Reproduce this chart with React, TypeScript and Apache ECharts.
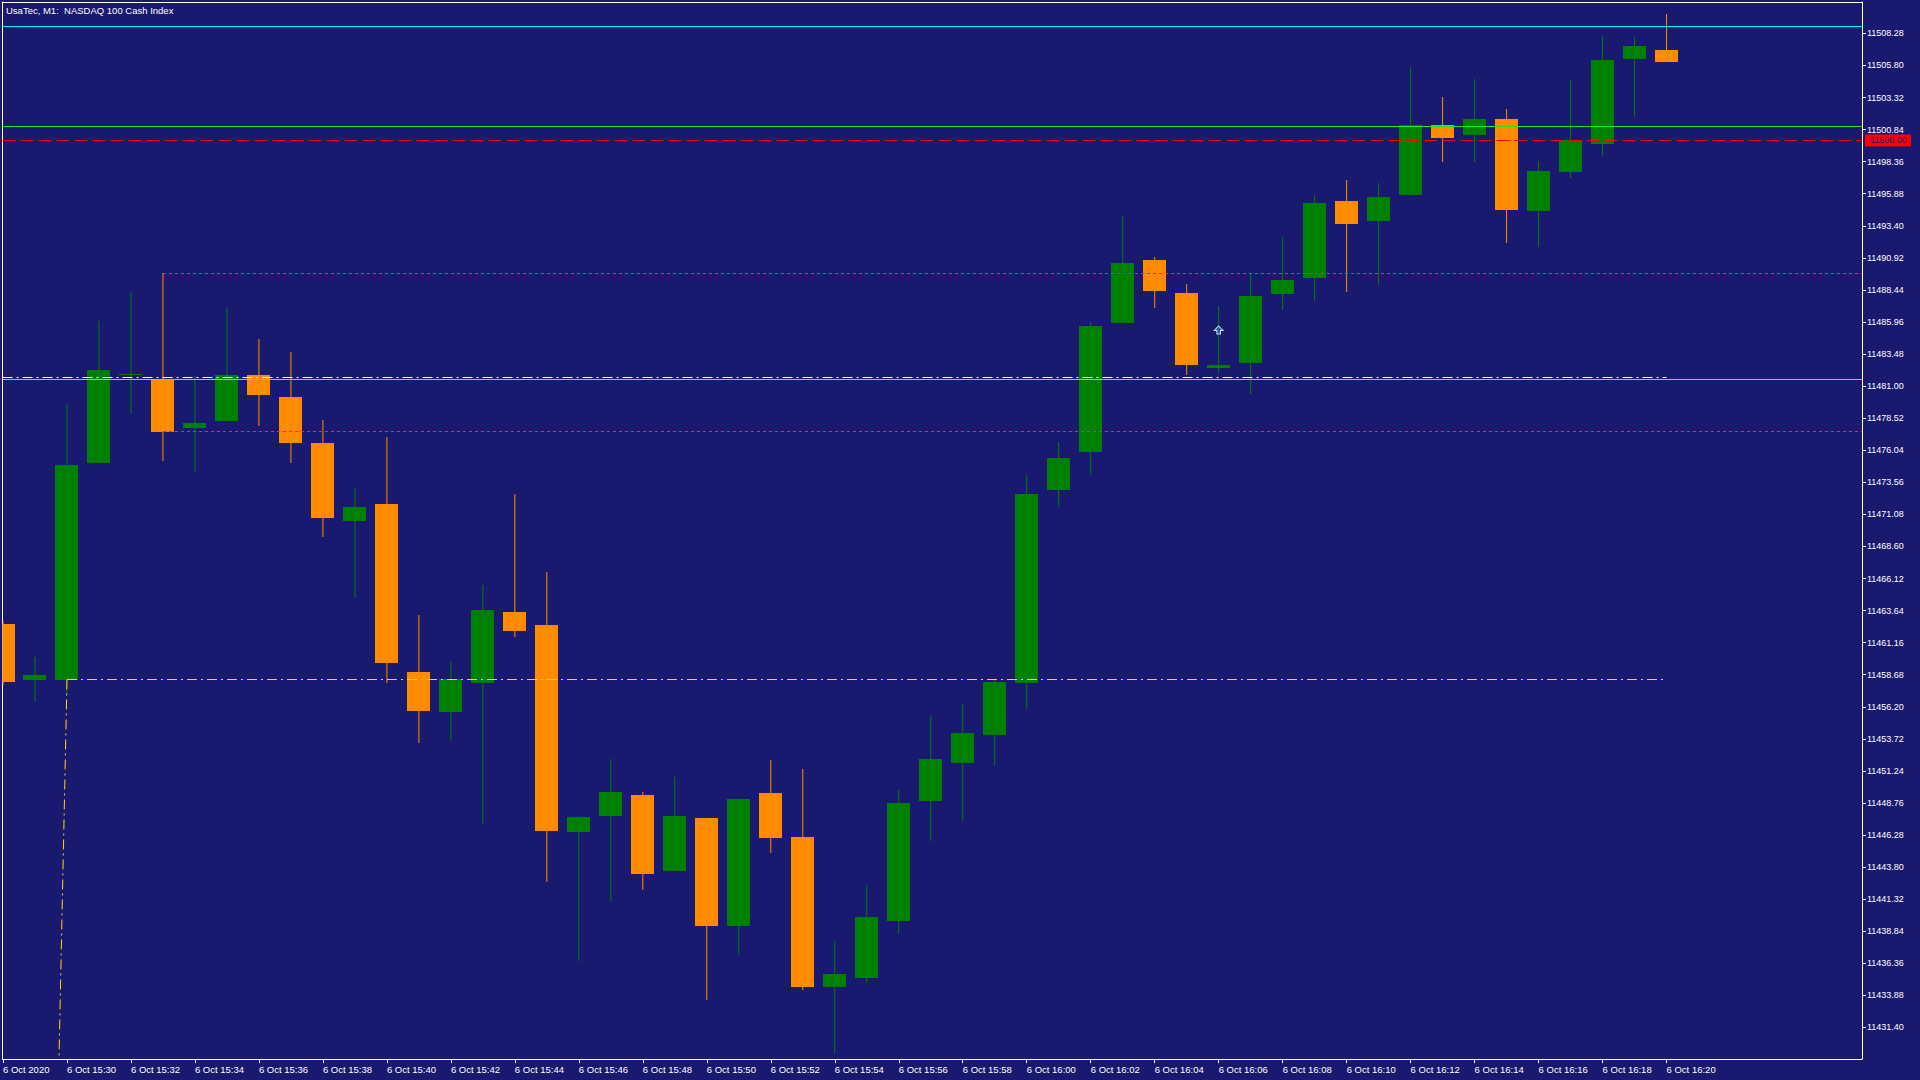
import React, { useEffect, useRef } from "react";
import * as echarts from "echarts";

// ---- data (candle index 0 = 6 Oct 15:28, one per minute up to 16:20) ----
const opens = [
  11462.6, 11458.31, 11458.31, 11475.06, 11481.9, 11481.46, 11477.76, 11478.29, 11481.87, 11480.16,
  11476.61, 11470.59, 11471.89, 11458.9, 11455.79, 11458.03, 11463.53, 11462.54, 11446.48, 11447.77,
  11449.37, 11443.53, 11447.59, 11439.26, 11449.52, 11446.12, 11434.56, 11435.25, 11439.65, 11448.95,
  11451.87, 11454.03, 11458.06, 11472.99, 11475.93, 11485.91, 11490.75, 11488.2, 11482.43, 11482.79,
  11488.15, 11489.39, 11495.32, 11493.8, 11495.78, 11501.17, 11500.42, 11501.66, 11494.54, 11497.56,
  11499.73, 11506.3, 11506.99,
];
const closes = [
  11458.12, 11458.65, 11474.9, 11482.24, 11481.95, 11477.45, 11478.14, 11481.83, 11480.31, 11476.61,
  11470.8, 11471.64, 11459.58, 11455.89, 11458.34, 11463.69, 11462.07, 11446.6, 11447.68, 11449.61,
  11443.29, 11447.74, 11439.26, 11449.07, 11446.09, 11434.56, 11435.52, 11439.95, 11448.77, 11452.17,
  11454.18, 11458.12, 11472.66, 11475.44, 11485.65, 11490.52, 11488.35, 11482.63, 11482.63, 11487.97,
  11489.21, 11495.16, 11493.56, 11495.63, 11501.17, 11500.22, 11501.66, 11494.62, 11497.64, 11500.04,
  11506.22, 11507.3, 11506.07,
];
const lows = [
  11457.9, 11456.57, 11457.1, 11475.06, 11478.85, 11475.21, 11474.35, 11478.29, 11477.92, 11475.06,
  11469.34, 11464.62, 11458.03, 11453.4, 11453.56, 11447.12, 11461.61, 11442.65, 11436.55, 11441.12,
  11442.02, 11443.53, 11433.54, 11437.03, 11444.91, 11434.32, 11429.36, 11434.86, 11438.65, 11445.85,
  11447.38, 11451.65, 11456.05, 11471.68, 11474.15, 11485.91, 11487.07, 11481.86, 11482.04, 11480.39,
  11486.89, 11487.58, 11488.28, 11488.84, 11495.73, 11498.33, 11498.33, 11492.07, 11491.76, 11497.1,
  11498.82, 11501.81, 11506.07,
];
const highs = [
  11462.8, 11460.05, 11479.63, 11486.03, 11488.27, 11489.73, 11481.8, 11487.06, 11484.63, 11483.64,
  11478.38, 11473.13, 11477.08, 11463.31, 11459.68, 11465.61, 11472.67, 11466.64, 11447.75, 11452.17,
  11449.61, 11450.75, 11447.59, 11449.07, 11452.08, 11451.38, 11438.08, 11442.42, 11449.76, 11455.48,
  11456.41, 11458.3, 11474.13, 11476.68, 11485.96, 11494.16, 11490.98, 11488.89, 11487.2, 11489.72,
  11492.53, 11495.78, 11496.94, 11496.71, 11505.68, 11503.36, 11504.75, 11502.43, 11498.41, 11504.68,
  11508.08, 11508.0, 11509.78,
];

const yTickValues = [
  11431.4, 11433.88, 11436.36, 11438.84, 11441.32, 11443.8, 11446.28, 11448.76, 11451.24, 11453.72,
  11456.2, 11458.68, 11461.16, 11463.64, 11466.12, 11468.6, 11471.08, 11473.56, 11476.04, 11478.52,
  11481.0, 11483.48, 11485.96, 11488.44, 11490.92, 11493.4, 11495.88, 11498.36, 11500.84, 11503.32,
  11505.8, 11508.28,
];

const xTickIndex = [
  0, 2, 4, 6, 8, 10, 12, 14, 16, 18, 20, 22, 24, 26, 28, 30, 32, 34, 36, 38, 40, 42, 44, 46, 48, 50, 52,
];
const xTickLabels = [
  "6 Oct 2020", "6 Oct 15:30", "6 Oct 15:32", "6 Oct 15:34", "6 Oct 15:36", "6 Oct 15:38",
  "6 Oct 15:40", "6 Oct 15:42", "6 Oct 15:44", "6 Oct 15:46", "6 Oct 15:48", "6 Oct 15:50",
  "6 Oct 15:52", "6 Oct 15:54", "6 Oct 15:56", "6 Oct 15:58", "6 Oct 16:00", "6 Oct 16:02",
  "6 Oct 16:04", "6 Oct 16:06", "6 Oct 16:08", "6 Oct 16:10", "6 Oct 16:12", "6 Oct 16:14",
  "6 Oct 16:16", "6 Oct 16:18", "6 Oct 16:20",
];

// horizontal levels / objects on the chart
const levelTopCyan = 11508.84;
const levelGreen = 11501.1;
const levelRed = 11500.0;
const levelPinkHigh = 11489.73;
const levelWhiteDashDot = 11481.63;
const levelCyanMid = 11481.49;
const levelPinkLow = 11477.51;
const levelYellow = 11458.31;
const pinkStartIndex = 5;
const yellowStartIndex = 2;
const lastIndex = 52;
const trendStart = [2, 11458.31];
const trendEnd = [1.75, 11428.96];
const arrowPoint = [38, 11485.34];

const X_MIN = -0.015625;
const X_MAX = 58.109375;
const Y_MIN = 11428.96;
const Y_MAX = 11510.71;
const GRID_TOP = 2;
const GRID_H = 1057;

const BG = "#191970";
const UP = "#008000";
const DOWN = "#ff8c00";
const FONT = '"Liberation Sans", Arial, sans-serif';

// move a level by < half a pixel so that a 1px line lands on a pixel row (crisp rendering)
function crisp(v: number) {
  const k = GRID_H / (Y_MAX - Y_MIN);
  const y = GRID_TOP + (Y_MAX - v) * k;
  const ys = Math.floor(y) + 0.5;
  return Y_MAX - (ys - GRID_TOP) / k;
}

function hLine(name: string, level: number, x0: number, x1: number, color: string, type: any, z = 5) {
  const y = crisp(level);
  return {
    name,
    type: "line",
    data: [
      [x0, y],
      [x1, y],
    ],
    showSymbol: false,
    symbol: "none",
    silent: true,
    z,
    color,
    lineStyle: { color, width: 1, type },
  };
}

export default function App() {
  const ref = useRef<HTMLDivElement>(null);

  useEffect(() => {
    if (!ref.current) return;
    document.body.style.margin = "0";
    const chart = echarts.init(ref.current, undefined, { renderer: "svg" });

    const candleData = opens.map((o, i) => [i, o, closes[i], lows[i], highs[i]]);

    const renderItem = (params: any, api: any) => {
      const i = api.value(0);
      const o = api.value(1);
      const c = api.value(2);
      const l = api.value(3);
      const h = api.value(4);
      const pO = api.coord([i, o]);
      const pC = api.coord([i, c]);
      const pL = api.coord([i, l]);
      const pH = api.coord([i, h]);
      const cx = pO[0];
      const bw = Math.round(api.size([1, 0])[0] * 0.72);
      const color = c >= o ? UP : DOWN;
      const top = Math.round(Math.min(pO[1], pC[1]));
      const bot = Math.round(Math.max(pO[1], pC[1]));
      const cs = params.coordSys;
      const rect = echarts.graphic.clipRectByRect(
        { x: Math.round(cx - bw / 2), y: top, width: bw, height: Math.max(1, bot - top) },
        { x: cs.x, y: cs.y, width: cs.width, height: cs.height }
      );
      const children: any[] = [
        {
          type: "line",
          shape: { x1: cx, y1: Math.round(pH[1]), x2: cx, y2: Math.round(pL[1]) },
          style: { stroke: color, lineWidth: 1 },
        },
      ];
      if (rect) children.push({ type: "rect", shape: rect, style: { fill: color } });
      return { type: "group", children };
    };

    const dashDot = [10, 4, 2, 4];

    const option: any = {
      animation: false,
      backgroundColor: BG,
      grid: { left: 2, top: GRID_TOP, width: 1860, height: GRID_H, show: false },
      graphic: [
        {
          type: "text",
          left: 6,
          top: 5,
          style: { text: "UsaTec, M1:  NASDAQ 100 Cash Index", fill: "#ffffff", font: `9.5px ${FONT}` },
        },
      ],
      xAxis: [
        {
          type: "value",
          min: X_MIN,
          max: X_MAX,
          position: "bottom",
          axisLine: { show: true, onZero: false, lineStyle: { color: "#ffffff", width: 1 } },
          axisTick: {
            show: true,
            length: 4,
            customValues: xTickIndex,
            lineStyle: { color: "#ffffff" },
          },
          axisLabel: {
            show: true,
            customValues: xTickIndex,
            formatter: (v: number) => {
              const k = xTickIndex.indexOf(Math.round(v));
              return k >= 0 ? xTickLabels[k] : "";
            },
            align: "left",
            color: "#ffffff",
            fontSize: 9.5,
            fontFamily: FONT,
            margin: 5,
          },
          splitLine: { show: false },
        },
        {
          type: "value",
          min: X_MIN,
          max: X_MAX,
          position: "top",
          axisLine: { show: true, onZero: false, lineStyle: { color: "#ffffff", width: 1 } },
          axisTick: { show: false },
          axisLabel: { show: false },
          splitLine: { show: false },
        },
      ],
      yAxis: [
        {
          type: "value",
          min: Y_MIN,
          max: Y_MAX,
          position: "right",
          axisLine: { show: true, onZero: false, lineStyle: { color: "#ffffff", width: 1 } },
          axisTick: {
            show: true,
            length: 4,
            customValues: yTickValues,
            lineStyle: { color: "#ffffff" },
          },
          axisLabel: {
            show: true,
            customValues: yTickValues,
            formatter: (v: number) => v.toFixed(2),
            color: "#ffffff",
            fontSize: 9,
            fontFamily: FONT,
            margin: 5,
          },
          splitLine: { show: false },
        },
        {
          type: "value",
          min: Y_MIN,
          max: Y_MAX,
          position: "left",
          axisLine: { show: true, onZero: false, lineStyle: { color: "#ffffff", width: 1 } },
          axisTick: { show: false },
          axisLabel: { show: false },
          splitLine: { show: false },
        },
      ],
      series: [
        {
          name: "candles",
          type: "custom",
          renderItem,
          data: candleData,
          encode: { x: 0, y: [1, 2, 3, 4] },
          silent: true,
          z: 2,
        },
        {
          ...hLine("topCyan", levelTopCyan, X_MIN, X_MAX, "#00ffff", "solid"),
          markLine: {
            silent: true,
            symbol: "none",
            animation: false,
            data: [{ yAxis: crisp(levelRed) }],
            lineStyle: { color: "#ff0000", width: 1, type: [13, 5] },
            label: {
              show: true,
              position: "end",
              distance: 3,
              formatter: levelRed.toFixed(2),
              color: BG,
              backgroundColor: "#ff0000",
              padding: [2, 4, 1, 5],
              fontSize: 9,
              fontFamily: FONT,
            },
          },
        },
        hLine("greenLevel", levelGreen, X_MIN, X_MAX, "#1ee61e", "solid"),
        hLine("pinkHigh", levelPinkHigh, pinkStartIndex, X_MAX, "#ff1493", [3, 3]),
        hLine("cyanMid", levelCyanMid, X_MIN, X_MAX, "#00ffff", "solid"),
        hLine("whiteDashDot", levelWhiteDashDot, X_MIN, lastIndex, "#ffffff", dashDot, 6),
        hLine("pinkLow", levelPinkLow, pinkStartIndex, X_MAX, "#ff1493", [3, 3]),
        hLine("yellow", levelYellow, yellowStartIndex, lastIndex, "#ffd700", dashDot),
        {
          name: "trend",
          type: "line",
          data: [trendStart, trendEnd],
          showSymbol: false,
          symbol: "none",
          silent: true,
          z: 5,
          color: "#ffd700",
          lineStyle: { color: "#ffd700", width: 1, type: dashDot },
        },
        {
          name: "arrow",
          type: "scatter",
          data: [arrowPoint],
          symbol: "path://M5,0 L10,5 L7,5 L7,9 L3,9 L3,5 L0,5 Z",
          symbolSize: [9, 8],
          silent: true,
          z: 7,
          itemStyle: { color: "#1565c0", borderColor: "#ffffff", borderWidth: 1 },
        },
      ],
    };

    chart.setOption(option);
    return () => chart.dispose();
  }, []);

  return (
    <div
      ref={ref}
      style={{ position: "fixed", left: 0, top: 0, width: 1920, height: 1080, background: BG }}
    />
  );
}
